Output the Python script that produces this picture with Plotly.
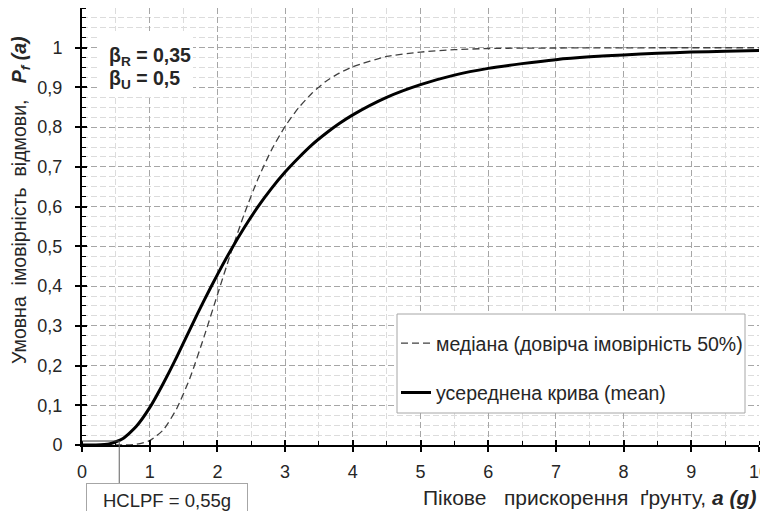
import plotly.graph_objects as go

# ---- data ----
a_g = [0, 0.2, 0.4, 0.6, 0.8, 1.0, 1.2, 1.4, 1.6, 1.8, 2.0, 2.2, 2.4, 2.6, 2.8, 3.0,
       3.2, 3.4, 3.6, 3.8, 4.0, 4.5, 5.0, 5.5, 6.0, 6.5, 7.0, 7.5, 8.0, 8.5, 9.0, 9.5, 10.0]
median_pf = [0, 0, 0, 0.0001, 0.0017, 0.011, 0.038, 0.092, 0.171, 0.271, 0.378, 0.484,
             0.583, 0.670, 0.743, 0.802, 0.849, 0.886, 0.915, 0.936, 0.952, 0.978, 0.989,
             0.995, 0.998, 0.999, 0.9993, 0.9996, 0.9998, 0.9999, 0.9999, 1.0, 1.0]
mean_pf = [0, 0.00004, 0.0024, 0.0157, 0.0465, 0.094, 0.155, 0.222, 0.293, 0.363, 0.429,
           0.491, 0.548, 0.600, 0.646, 0.687, 0.723, 0.756, 0.784, 0.809, 0.831, 0.875,
           0.907, 0.931, 0.948, 0.960, 0.970, 0.977, 0.982, 0.986, 0.989, 0.991, 0.993]
hclpf_a = 0.55
hclpf_p = 0.01
x_ticks = [0, 1, 2, 3, 4, 5, 6, 7, 8, 9, 10]
y_ticks = [0, 0.1, 0.2, 0.3, 0.4, 0.5, 0.6, 0.7, 0.8, 0.9, 1.0]
y_ticklabels = ["0", "0,1", "0,2", "0,3", "0,4", "0,5", "0,6", "0,7", "0,8", "0,9", "1"]
legend_names = ["медіана (довірча імовірність 50%)", "усереднена крива (mean)"]

FONT = "Liberation Sans, Arial, sans-serif"
TXT = "#262626"
W, H = 760, 511
L, R, T, B = 82, 1, 8, 66
pw, ph = W - L - R, H - T - B


def px_x(px):
    return (px - L) / pw


def px_y(py):
    return (H - B - py) / ph


fig = go.Figure()
fig.add_trace(go.Scatter(x=a_g, y=median_pf, mode="lines", name=legend_names[0],
                         line=dict(color="#404040", width=1.3, dash="7px,4px", shape="spline", smoothing=0.6),
                         legendgroup="a", hoverinfo="skip"))
fig.add_trace(go.Scatter(x=a_g, y=mean_pf, mode="lines", name=legend_names[1],
                         line=dict(color="#000000", width=3, shape="spline", smoothing=0.6),
                         legendgroup="b", hoverinfo="skip"))
# helper trace for overlay axes (inner half of major ticks)
fig.add_trace(go.Scatter(x=[0], y=[0], xaxis="x2", yaxis="y2", mode="markers",
                         marker=dict(opacity=0), showlegend=False, hoverinfo="skip"))

grid_major = "#a6a6a6"
grid_minor = "#dcdcdc"

fig.update_layout(
    width=W, height=H,
    margin=dict(l=L, r=R, t=T, b=B, autoexpand=False),
    paper_bgcolor="white", plot_bgcolor="white",
    font=dict(family=FONT, size=18, color=TXT),
    showlegend=True,
    legend=dict(x=px_x(396), y=px_y(324), xanchor="left", yanchor="top",
                bgcolor="rgba(0,0,0,0)", borderwidth=0, tracegroupgap=21,
                traceorder="grouped", itemwidth=30,
                font=dict(family=FONT, size=19.5, color=TXT)),
    xaxis=dict(range=[0, 10], tickvals=x_ticks, ticks="outside", ticklen=5, tickwidth=1.5,
               tickcolor="black", showline=True, linecolor="black", linewidth=2,
               showgrid=True, gridcolor=grid_major, griddash="6px,3px", gridwidth=1,
               zeroline=False, ticklabelstandoff=4, automargin=False,
               ticklabeloverflow="allow",
               tickfont=dict(size=18, color=TXT),
               minor=dict(dtick=0.5, ticks="inside", ticklen=4, tickcolor="black", tickwidth=1,
                          showgrid=True, gridcolor=grid_minor, gridwidth=1)),
    yaxis=dict(range=[0, 1.1], tickvals=y_ticks, ticktext=y_ticklabels, ticks="outside",
               ticklen=5, tickwidth=1.5, tickcolor="black", showline=True, linecolor="black",
               linewidth=2, showgrid=True, gridcolor=grid_major, griddash="6px,3px", gridwidth=1,
               zeroline=False, ticklabelstandoff=9, automargin=False,
               ticklabeloverflow="allow",
               tickfont=dict(size=18, color=TXT),
               minor=dict(dtick=0.025, tick0=0, ticks="inside", ticklen=4, tickcolor="black",
                          tickwidth=1, showgrid=True, gridcolor=grid_minor, gridwidth=1)),
    xaxis2=dict(range=[0, 10], overlaying="x", anchor="y2", tickvals=x_ticks, ticks="inside",
                ticklen=5, tickwidth=1.5, tickcolor="black", showticklabels=False,
                showgrid=False, zeroline=False, showline=False, automargin=False),
    yaxis2=dict(range=[0, 1.1], overlaying="y", anchor="x2", tickvals=y_ticks, ticks="inside",
                ticklen=5, tickwidth=1.5, tickcolor="black", showticklabels=False,
                showgrid=False, zeroline=False, showline=False, automargin=False),
)

shapes = [
    # legend box
    dict(type="rect", xref="paper", yref="paper", x0=px_x(397), x1=px_x(745),
         y0=px_y(413), y1=px_y(314), fillcolor="white",
         line=dict(color="#a6a6a6", width=1), layer="above"),
    # beta box background
    dict(type="rect", xref="paper", yref="paper", x0=px_x(100), x1=px_x(193),
         y0=px_y(95), y1=px_y(31), fillcolor="white", line=dict(width=0), layer="above"),
    # HCLPF guide lines
    dict(type="line", xref="x", yref="y", x0=0, x1=hclpf_a, y0=hclpf_p, y1=hclpf_p,
         line=dict(color="#404040", width=1), layer="above"),
    dict(type="line", xref="x", yref="paper", x0=hclpf_a, x1=hclpf_a,
         y0=hclpf_p / 1.1, y1=px_y(483), line=dict(color="#606060", width=1), layer="above"),
]
fig.update_layout(shapes=shapes)

nb = "\u00a0"
annotations = [
    dict(text="<b>β<sub>R</sub> = 0,35</b>", xref="paper", yref="paper",
         x=px_x(107), y=px_y(57), xanchor="left", yanchor="middle", align="left",
         showarrow=False, font=dict(family=FONT, size=19.5, color=TXT)),
    dict(text="<b>β<sub>U</sub> = 0,5</b>", xref="paper", yref="paper",
         x=px_x(107), y=px_y(79), xanchor="left", yanchor="middle", align="left",
         showarrow=False, font=dict(family=FONT, size=19.5, color=TXT)),
    dict(text="HCLPF = 0,55g", xref="paper", yref="paper", x=px_x(167), y=px_y(483),
         xanchor="center", yanchor="top", showarrow=False, bgcolor="white",
         bordercolor="#a6a6a6", borderwidth=1, borderpad=4, width=152, height=24,
         font=dict(family=FONT, size=18.5, color=TXT)),
    dict(text=f"Пікове{nb}{nb}{nb}прискорення{nb}{nb}ґрунту,{nb}<b><i>a{nb}(g)</i></b>",
         xref="paper", yref="paper", x=px_x(758), y=px_y(497), xanchor="right",
         yanchor="middle", showarrow=False, font=dict(family=FONT, size=21, color=TXT)),
    dict(text=f"Умовна{nb}{nb}імовірність{nb}{nb}відмови,{nb}{nb}{nb}<b><i>P</i></b><sub><b><i>f</i></b></sub><b>{nb}<i>(a)</i></b>",
         xref="paper", yref="paper", x=px_x(20), y=px_y(200), xanchor="center",
         yanchor="middle", textangle=-90, showarrow=False,
         font=dict(family=FONT, size=19.5, color=TXT)),
]
fig.update_layout(annotations=annotations)

fig.write_html("out.html", config={"displayModeBar": False},
               post_script="document.body.style.margin='0';document.body.style.overflow='hidden';")
